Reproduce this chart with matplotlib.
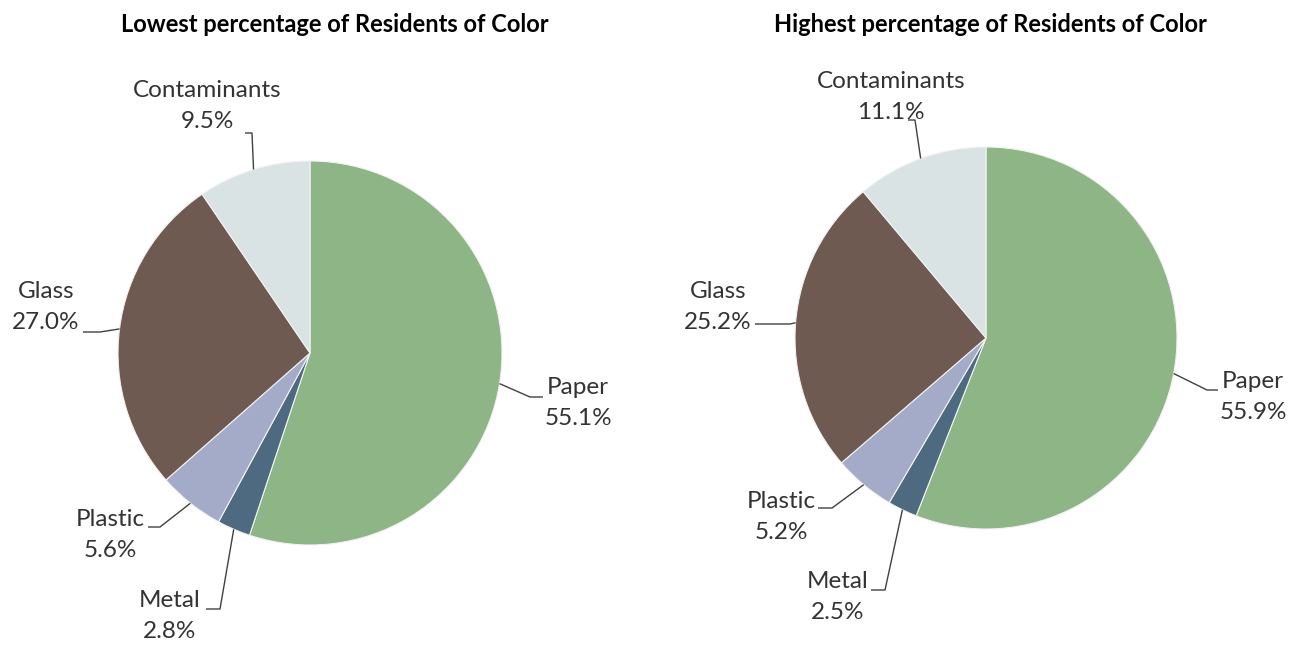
import numpy as np
import matplotlib
matplotlib.use('Agg')
import matplotlib.pyplot as plt

categories = ['Paper', 'Metal', 'Plastic', 'Glass', 'Contaminants']
lowest = [55.1, 2.8, 5.6, 27.0, 9.5]
highest = [55.9, 2.5, 5.2, 25.2, 11.1]
titles = ['Lowest percentage of Residents of Color',
          'Highest percentage of Residents of Color']
colors = ['#8db586', '#4d6a80', '#a3abc8', '#6e5a50', '#d9e3e3']

plt.rcParams['font.family'] = ['Lato', 'DejaVu Sans']

W, H = 1299, 645
fig = plt.figure(figsize=(W / 100, H / 100), dpi=100)
ax = fig.add_axes([0, 0, 1, 1])

# pixel layout: (center, radius, title x, label text position, elbow, line end)
layouts = [
    dict(center=(310, 353), r=192, title_x=335,
         labels={'Paper': ((578, 403), (530, 397), (543, 397)),
                 'Metal': ((170, 616), (220, 609), (206, 609)),
                 'Plastic': ((110, 535), (160, 527), (148, 527)),
                 'Glass': ((46, 307), (100, 332), (83, 332)),
                 'Contaminants': ((207, 106), (252, 133), (245, 133))}),
    dict(center=(986, 338), r=191, title_x=990,
         labels={'Paper': ((1253, 397), (1207, 390), (1218, 390)),
                 'Metal': ((838, 597), (885, 590), (871, 590)),
                 'Plastic': ((781, 517), (832, 508), (818, 508)),
                 'Glass': ((718, 307), (790, 324), (755, 324)),
                 'Contaminants': ((891, 97), (915, 120), (908, 120))}),
]

for values, title, lay in zip([lowest, highest], titles, layouts):
    cx, cy = lay['center']
    r = lay['r']
    wedges, _ = ax.pie(values, colors=colors, startangle=90, counterclock=False,
                       center=(cx, H - cy), radius=r, frame=True,
                       wedgeprops=dict(edgecolor='#f2f2f2', linewidth=0.8))
    ax.text(lay['title_x'], H - 24, title, ha='center', va='center',
            fontsize=17, fontweight='bold', color='black')
    for w, name, v in zip(wedges, categories, values):
        txt, elbow, end = lay['labels'][name]
        mid = np.deg2rad((w.theta1 + w.theta2) / 2)
        ex = cx + r * np.cos(mid)
        ey = (H - cy) + r * np.sin(mid)
        ax.plot([ex, elbow[0], end[0]], [ey, H - elbow[1], H - end[1]],
                color='#404040', lw=1.0, solid_capstyle='butt')
        ax.text(txt[0], H - txt[1], f'{name}\n{v:.1f}%', ha='center', va='center',
                fontsize=17.5, color='#333333', linespacing=1.6)

ax.set_xlim(0, W)
ax.set_ylim(0, H)
ax.set_aspect('equal')
ax.axis('off')
fig.savefig('out.png', dpi=100)
plt.close(fig)
